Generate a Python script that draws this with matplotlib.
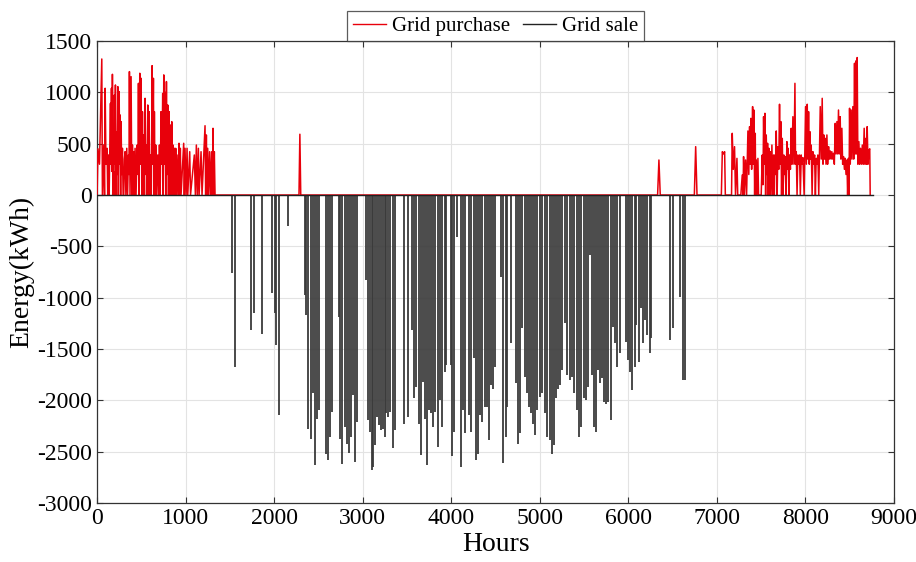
import matplotlib
matplotlib.use("Agg")
import matplotlib.pyplot as plt
from matplotlib.lines import Line2D

# ---------------- data ----------------
purchase_hours = [0, 10, 27, 53, 60, 76, 84, 91, 100, 113, 120, 128, 136, 143, 151, 156, 162, 168, 173, 180,
                  185, 190, 196, 202, 207, 213, 219, 226, 234, 240, 249, 255, 260, 266, 271, 278, 286, 294,
                  301, 308, 316, 325, 335, 344, 354, 360, 365, 372, 384, 392, 399, 406, 414, 421, 429, 440,
                  452, 460, 467, 474, 482, 490, 497, 505, 512, 520, 527, 535, 542, 550, 557, 565, 572, 580,
                  587, 595, 602, 612, 621, 628, 636, 642, 647, 655, 662, 672, 685, 695, 704, 712, 722, 732,
                  741, 747, 753, 760, 768, 775, 783, 790, 798, 806, 813, 820, 828, 836, 843, 850, 858, 866,
                  873, 880, 888, 895, 903, 915, 925, 932, 940, 948, 978, 985, 993, 1005, 1016, 1024, 1046,
                  1055, 1098, 1110, 1121, 1132, 1144, 1152, 1174, 1185, 1219, 1226, 1234, 1242, 1249, 1260,
                  1271, 1282, 1294, 1302, 1309, 1316, 1324, 1332, 1339,
                  2280, 2290, 2300,
                  6330, 6345, 6360, 6745, 6760, 6775,
                  7050, 7061, 7075, 7087, 7095, 7165, 7173, 7185, 7199, 7210, 7226, 7235, 7270, 7286, 7295,
                  7301, 7310, 7324, 7335, 7350, 7360, 7369, 7376, 7384, 7392, 7403, 7410, 7418, 7426, 7433,
                  7438, 7444, 7452, 7463, 7470, 7500, 7512, 7520, 7527, 7535, 7542, 7550, 7557, 7565, 7572,
                  7580, 7587, 7595, 7602, 7610, 7621, 7630, 7640, 7648, 7655, 7662, 7670, 7680, 7689, 7698,
                  7707, 7715, 7722, 7730, 7738, 7747, 7756, 7764, 7771, 7780, 7790, 7798, 7805, 7812, 7820,
                  7830, 7839, 7848, 7858, 7870, 7881, 7888, 7896, 7905, 7914, 7922, 7933, 7942, 7952, 7960,
                  7971, 7985, 8001, 8010, 8020, 8028, 8035, 8043, 8050, 8058, 8065, 8075, 8084, 8094, 8103,
                  8112, 8121, 8130, 8140, 8150, 8167, 8178, 8189, 8198, 8208, 8215, 8223, 8232, 8242, 8250,
                  8261, 8270, 8280, 8290, 8298, 8308, 8317, 8326, 8336, 8345, 8355, 8364, 8373, 8382, 8392,
                  8400, 8411, 8420, 8430, 8440, 8449, 8458, 8468, 8476, 8485, 8492, 8498, 8506, 8516, 8525,
                  8535, 8545, 8554, 8562, 8569, 8576, 8584, 8592, 8603, 8612, 8622, 8632, 8642, 8652, 8663,
                  8672, 8682, 8690, 8697, 8706, 8716, 8726, 8731]
purchase_kwh = [0, 450, 300, 1325, 0, 487, 0, 1040, 300, 455, 0, 390, 0, 420, 893, 300, 1040, 230, 1176, 0,
                227, 0, 975, 300, 1072, 0, 617, 200, 1056, 0, 1007, 300, 780, 0, 715, 200, 455, 0,
                0, 350, 422, 0, 455, 0, 390, 200, 1202, 0, 1153, 0, 487, 0, 422, 0, 455, 0,
                487, 200, 1088, 0, 1186, 300, 1137, 0, 812, 0, 585, 0, 942, 200, 487, 0, 877, 0,
                812, 0, 390, 0, 1260, 300, 1137, 0, 812, 0, 487, 0, 390, 0, 487, 0, 812, 300,
                990, 0, 1170, 300, 1000, 0, 1105, 200, 877, 0, 812, 0, 682, 0, 715, 0, 487, 0,
                455, 0, 455, 0, 390, 0, 504, 0, 455, 0, 504, 0, 455, 0, 455, 0, 422,
                0, 390, 0, 487, 0, 455, 0, 422, 0, 675, 0, 585, 0, 455, 0,
                422, 0, 422, 0, 650, 0, 422, 0, 0,
                0, 592, 0,
                0, 341, 0, 0, 471, 0,
                0, 422, 400, 422, 0, 0, 601, 250, 471, 0, 357, 0, 0, 195, 0,
                374, 0, 341, 0, 624, 200, 666, 300, 747, 250, 861, 300, 828, 0, 601,
                0, 341, 0, 357, 0, 0, 390, 100, 763, 300, 796, 0, 585, 200, 504,
                0, 455, 0, 422, 0, 487, 0, 390, 0, 390, 200, 624, 0, 471, 250,
                884, 300, 715, 0, 552, 0, 390, 200, 374, 0, 520, 250, 455, 0, 390,
                250, 650, 300, 763, 300, 1088, 300, 422, 0, 390, 300, 390, 0, 390, 300,
                364, 0, 861, 300, 884, 350, 812, 300, 617, 350, 487, 0, 422, 300, 390,
                0, 357, 300, 390, 0, 861, 350, 942, 300, 585, 350, 552, 300, 585, 300,
                471, 350, 429, 350, 422, 350, 406, 300, 698, 400, 715, 400, 828, 400, 763,
                350, 650, 300, 374, 250, 357, 200, 341, 0, 357, 0, 845, 300, 828, 350,
                861, 350, 1283, 400, 1306, 400, 1339, 300, 520, 300, 455, 300, 487, 300, 650,
                300, 552, 300, 666, 300, 438, 450, 0]

sale_hours = [1528, 1555, 1743, 1773, 1867, 1980, 2006, 2025, 2055, 2157, 2345, 2364, 2386, 2413, 2439,
              2461, 2484, 2507, 2582, 2604, 2627, 2650, 2732, 2747, 2770, 2796, 2819, 2845, 2872, 2890,
              2917, 2936, 3041, 3060, 3079, 3101, 3120, 3143, 3165, 3184, 3203, 3225, 3248, 3267, 3289,
              3312, 3342, 3365, 3462, 3511, 3557, 3579, 3606, 3632, 3662, 3681, 3707, 3730, 3748, 3775,
              3794, 3816, 3846, 3869, 3895, 3925, 3944, 3993, 4012, 4034, 4064, 4110, 4132, 4158, 4200,
              4226, 4253, 4275, 4302, 4324, 4350, 4377, 4403, 4422, 4445, 4471, 4493, 4565, 4584, 4614,
              4633, 4678, 4734, 4757, 4776, 4802, 4828, 4855, 4877, 4904, 4922, 4949, 4971, 4998, 5028,
              5054, 5084, 5111, 5137, 5160, 5178, 5205, 5224, 5254, 5284, 5310, 5336, 5363, 5389, 5419,
              5442, 5468, 5494, 5517, 5540, 5562, 5585, 5611, 5630, 5656, 5675, 5705, 5724, 5750, 5773,
              5799, 5826, 5848, 5874, 5901, 5968, 5995, 6021, 6044, 6070, 6089, 6115, 6138, 6164, 6187,
              6213, 6240, 6258, 6472, 6502, 6588, 6615, 6637]
sale_kwh = [-757, -1673, -1316, -1154, -1349, -959, -1154, -1462, -2145, -299, -975, -1170, -2275, -2372, -1933,
            -2632, -2177, -2090, -2518, -2577, -2356, -2112, -1186, -2372, -2622, -2258, -2421, -2512, -2356, -1950,
            -2599, -2210, -829, -2193, -2307, -2681, -2648, -2437, -2161, -2242, -2291, -2275, -2362, -2128, -2161,
            -2112, -2469, -2291, -2226, -2161, -1316, -1982, -1868, -2226, -2530, -1820, -2177, -2632, -2096, -2128,
            -2258, -2112, -2453, -2000, -2258, -1722, -1657, -1657, -2544, -2307, -406, -2648, -2096, -2323, -2145,
            -2307, -1592, -2583, -2518, -2145, -2210, -2063, -2063, -2388, -1852, -1885, -1673, -796, -2609, -2356,
            -2063, -1446, -1836, -2421, -2323, -1300, -1771, -1933, -2063, -2128, -2226, -2340, -2096, -1966, -1933,
            -2128, -2356, -2388, -2518, -2437, -1982, -1885, -1852, -1706, -1251, -1755, -1803, -1771, -1933, -2096,
            -2356, -2258, -1982, -1998, -1868, -585, -1755, -2258, -2307, -1706, -1836, -1787, -2015, -2031, -2015,
            -2193, -1284, -1446, -1673, -1543, -1430, -1608, -1722, -1901, -1673, -1267, -1625, -1105, -1446, -1219,
            -1365, -1543, -1397, -1414, -1300, -991, -1803, -1803]

year_span = [0, 8760]

x_ticks = [0, 1000, 2000, 3000, 4000, 5000, 6000, 7000, 8000, 9000]
y_ticks = [1500, 1000, 500, 0, -500, -1000, -1500, -2000, -2500, -3000]

# ---------------- figure ----------------
plt.rcParams['font.family'] = ['Liberation Serif', 'DejaVu Serif']
plt.rcParams['axes.unicode_minus'] = False
fig = plt.figure(figsize=(9.16, 5.62), dpi=100)
ax = fig.add_axes([0.106, 0.105, 0.870, 0.822])

ax.plot(purchase_hours, purchase_kwh, color='#e8000b', lw=1.1, zorder=3)
ax.vlines(sale_hours, 0, sale_kwh, color='#3a3a3a', lw=1.3, zorder=3)
ax.plot(year_span, [0, 0], color='#202020', lw=1.0, zorder=4)

ax.set_xlim(0, 9000)
ax.set_ylim(-3000, 1500)
ax.set_xticks(x_ticks)
ax.set_yticks(y_ticks)
ax.grid(True, color='#e3e3e3', lw=0.8)
ax.set_axisbelow(True)
ax.tick_params(direction='in', top=True, right=True, labelsize=17, length=4, color='#333333')
for s in ax.spines.values():
    s.set_color('#333333')
    s.set_linewidth(0.9)

ax.set_xlabel('Hours', fontsize=20, labelpad=2)
ax.set_ylabel('Energy(kWh)', fontsize=20, labelpad=2)

handles = [Line2D([], [], color='#e8000b', lw=1.0), Line2D([], [], color='#222222', lw=1.0)]
leg = ax.legend(handles, ['Grid purchase', 'Grid sale'], loc='lower center', bbox_to_anchor=(0.5, 1.0),
                ncol=2, frameon=True, fancybox=False, fontsize=15, handlelength=1.6,
                handletextpad=0.3, columnspacing=0.6, borderpad=0.25, borderaxespad=0.0)
leg.get_frame().set_edgecolor('#333333')
leg.get_frame().set_linewidth(0.9)

fig.savefig('out.png', dpi=100)
